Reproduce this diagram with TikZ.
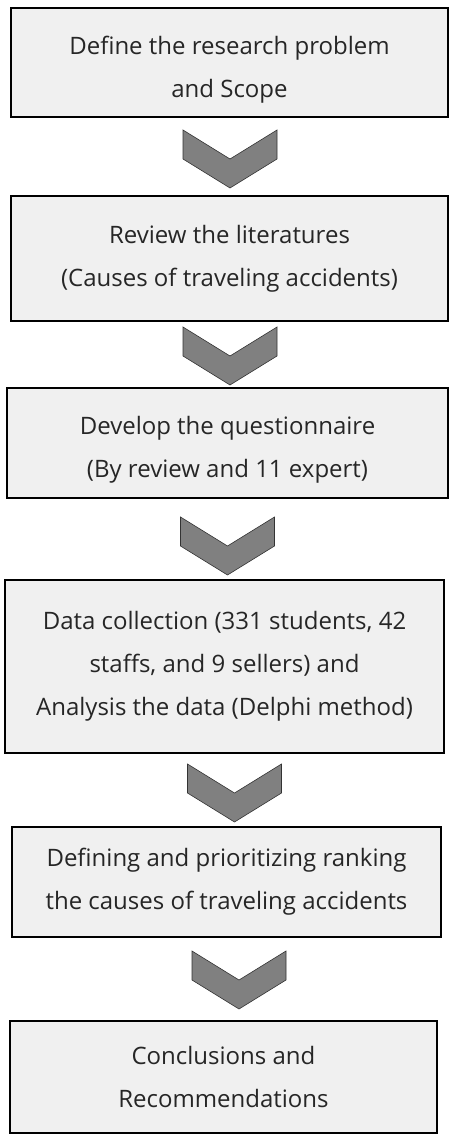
\documentclass[tikz,border=0pt]{standalone}
\usepackage{fontspec}
\setmainfont{Open Sans}
\definecolor{boxgray}{HTML}{F0F0F0}
\definecolor{chevgray}{HTML}{808080}
\newcommand{\lowstrut}{\rule{0pt}{32pt}}
\begin{document}
\begin{tikzpicture}[x=1pt,y=1pt,
  step box/.style={rectangle,draw=black,line width=1.5pt,fill=boxgray,align=center,
    inner sep=0pt,font=\fontsize{24}{43}\selectfont,text=black!85},
  chevron/.pic={\filldraw[fill=chevgray,draw=black!80,line width=0.6pt]
    (-47,29) -- (0,0) -- (47,29) -- (47,0) -- (0,-29) -- (-47,0) -- cycle;}]

  \useasboundingbox (0,0) rectangle (449,-1143);

  \node[step box,minimum width=437,minimum height=109] at (229.5,-62.5) (b1)
    {\lowstrut Define the research problem\\and Scope};
  \node[step box,minimum width=437,minimum height=125] at (229.5,-258.5) (b2)
    {Review the literatures\\(Causes of traveling accidents)};
  \node[step box,minimum width=441,minimum height=110] at (227.5,-443) (b3)
    {\lowstrut Develop the questionnaire\\(By review and 11 expert)};
  \node[step box,minimum width=439,minimum height=173] at (224.5,-666.5) (b4)
    {Data collection (331 students, 42\\staffs, and 9 sellers) and\\Analysis the data (Delphi method)};
  \node[step box,minimum width=429,minimum height=110] at (226.5,-882) (b5)
    {Defining and prioritizing ranking\\the causes of traveling accidents};
  \node[step box,minimum width=427,minimum height=112] at (223.5,-1077) (b6)
    {Conclusions and\\Recommendations};

  \coordinate (a1) at (230,-159);
  \coordinate (a2) at (230,-356);
  \coordinate (a3) at (227.5,-546);
  \coordinate (a4) at (234.5,-793);
  \coordinate (a5) at (239,-980);

  \foreach \a in {a1,a2,a3,a4,a5}
    \pic at (\a) {chevron};
\end{tikzpicture}
\end{document}
